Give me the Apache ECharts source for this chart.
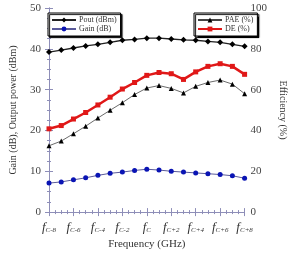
<!DOCTYPE html>
<html>
<head>
    <meta charset="utf-8">
    <title>PA performance vs frequency</title>
    <script src="https://cdn.jsdelivr.net/npm/echarts@6/dist/echarts.min.js"></script>
    <style>
        html, body { margin: 0; padding: 0; background: #fff; }
        #chart1 { width: 296px; height: 255px; }
    </style>
</head>
<body>
<div id="chart1"></div>
<script>
    // frequency offsets, fC-8 ... fC+8
    var freqLabels = ['C-8','C-7','C-6','C-5','C-4','C-3','C-2','C-1','C','C+1','C+2','C+3','C+4','C+5','C+6','C+7','C+8'];
    var pout = [39.2, 39.7, 40.2, 40.7, 41.1, 41.6, 42.1, 42.3, 42.6, 42.6, 42.4, 42.2, 42.1, 41.8, 41.6, 41.1, 40.6];
    var gain = [7.1, 7.4, 7.9, 8.4, 9.0, 9.5, 9.8, 10.2, 10.5, 10.3, 10.0, 9.8, 9.6, 9.4, 9.2, 8.9, 8.3];
    var pae = [32.5, 34.8, 38.4, 42.1, 46.1, 49.9, 53.6, 57.6, 60.8, 62.0, 60.6, 58.4, 61.6, 63.5, 64.7, 62.7, 58.0];
    var de = [40.8, 42.4, 45.6, 48.8, 52.5, 56.3, 60.3, 63.5, 67.0, 68.4, 67.8, 65.0, 68.7, 71.4, 72.7, 71.4, 67.5];

    function pairs(arr) {
        return arr.map(function (v, i) { return [i, v]; });
    }

    var axisCol = '#8e8eb8';
    var serif = 'Liberation Serif';

    var chart = echarts.init(document.getElementById('chart1'));
    var legendBox = {
        orient: 'vertical',
        itemWidth: 24,
        itemHeight: 6,
        itemGap: 1,
        padding: [3, 4, 3, 3],
        backgroundColor: '#fff',
        borderColor: '#000',
        borderWidth: 1,
        shadowColor: '#000',
        shadowBlur: 1,
        shadowOffsetX: 1.5,
        shadowOffsetY: 1.5,
        textStyle: { fontFamily: serif, fontSize: 8, lineHeight: 8, color: '#333', padding: [0, 0, 0, -2] }
    };

    chart.setOption({
        animation: false,
        grid: { left: 45, right: 40, top: 8, bottom: 38 },
        legend: [
            Object.assign({ left: 48, top: 13, data: ['Pout (dBm)', 'Gain (dB)'] }, legendBox),
            Object.assign({ left: 194, top: 13, data: ['PAE (%)', 'DE (%)'] }, legendBox)
        ],
        xAxis: [{
            type: 'value',
            min: 0, max: 16, interval: 2,
            name: 'Frequency (GHz)',
            nameLocation: 'middle',
            nameGap: 26,
            nameTextStyle: { fontFamily: serif, fontSize: 11, color: '#333' },
            axisLine: { lineStyle: { color: axisCol } },
            axisTick: { inside: true, length: 4, lineStyle: { color: axisCol } },
            minorTick: { show: true, splitNumber: 4, length: 2, lineStyle: { color: axisCol } },
            splitLine: { show: false },
            axisLabel: {
                margin: 9,
                formatter: function (v) {
                    return '{f|f}{s|' + freqLabels[v] + '}';
                },
                rich: {
                    f: { fontFamily: serif, fontStyle: 'italic', fontSize: 13, color: '#333' },
                    s: { fontFamily: serif, fontStyle: 'italic', fontSize: 7, color: '#333', padding: [5, 0, 0, 0] }
                }
            }
        }, {
            type: 'value',
            position: 'top',
            min: 0, max: 16, interval: 2,
            axisLine: { lineStyle: { color: axisCol } },
            axisTick: { inside: true, length: 4, lineStyle: { color: axisCol } },
            minorTick: { show: true, splitNumber: 4, length: 2, lineStyle: { color: axisCol } },
            splitLine: { show: false },
            axisLabel: { show: false }
        }],
        yAxis: [{
            type: 'value',
            min: 0, max: 50, interval: 10,
            name: 'Gain (dB), Output power (dBm)',
            nameLocation: 'middle',
            nameGap: 31,
            nameTextStyle: { fontFamily: serif, fontSize: 10, color: '#333' },
            axisLine: { show: true, lineStyle: { color: axisCol } },
            axisTick: { inside: true, length: 4, lineStyle: { color: axisCol } },
            minorTick: { show: true, splitNumber: 4, length: 2, lineStyle: { color: axisCol } },
            splitLine: { show: false },
            axisLabel: { fontFamily: serif, fontSize: 11, color: '#444', margin: 8 }
        }, {
            type: 'value',
            min: 0, max: 100, interval: 20,
            name: 'Efficiency (%)',
            nameLocation: 'middle',
            nameGap: 30,
            nameRotate: -90,
            nameTextStyle: { fontFamily: serif, fontSize: 10, color: '#333' },
            axisLine: { show: true, lineStyle: { color: axisCol } },
            axisTick: { inside: true, length: 4, lineStyle: { color: axisCol } },
            minorTick: { show: true, splitNumber: 4, length: 2, lineStyle: { color: axisCol } },
            splitLine: { show: false },
            axisLabel: { fontFamily: serif, fontSize: 11, color: '#444', margin: 6 }
        }],
        series: [{
            name: 'Pout (dBm)',
            type: 'line',
            yAxisIndex: 0,
            data: pairs(pout),
            symbol: 'diamond',
            symbolSize: 6,
            itemStyle: { color: '#000' },
            lineStyle: { color: '#222', width: 1.3 }
        }, {
            name: 'Gain (dB)',
            type: 'line',
            yAxisIndex: 0,
            data: pairs(gain),
            symbol: 'circle',
            symbolSize: 5,
            itemStyle: { color: '#0a14b4' },
            lineStyle: { color: '#5a5a9a', width: 1 }
        }, {
            name: 'PAE (%)',
            type: 'line',
            yAxisIndex: 1,
            data: pairs(pae),
            symbol: 'triangle',
            symbolSize: 5,
            itemStyle: { color: '#000' },
            lineStyle: { color: '#444', width: 0.8 }
        }, {
            name: 'DE (%)',
            type: 'line',
            yAxisIndex: 1,
            data: pairs(de),
            symbol: 'rect',
            symbolSize: 5,
            itemStyle: { color: '#e01818' },
            lineStyle: { color: '#e01818', width: 2.5 }
        }]
    });
</script>
</body>
</html>
